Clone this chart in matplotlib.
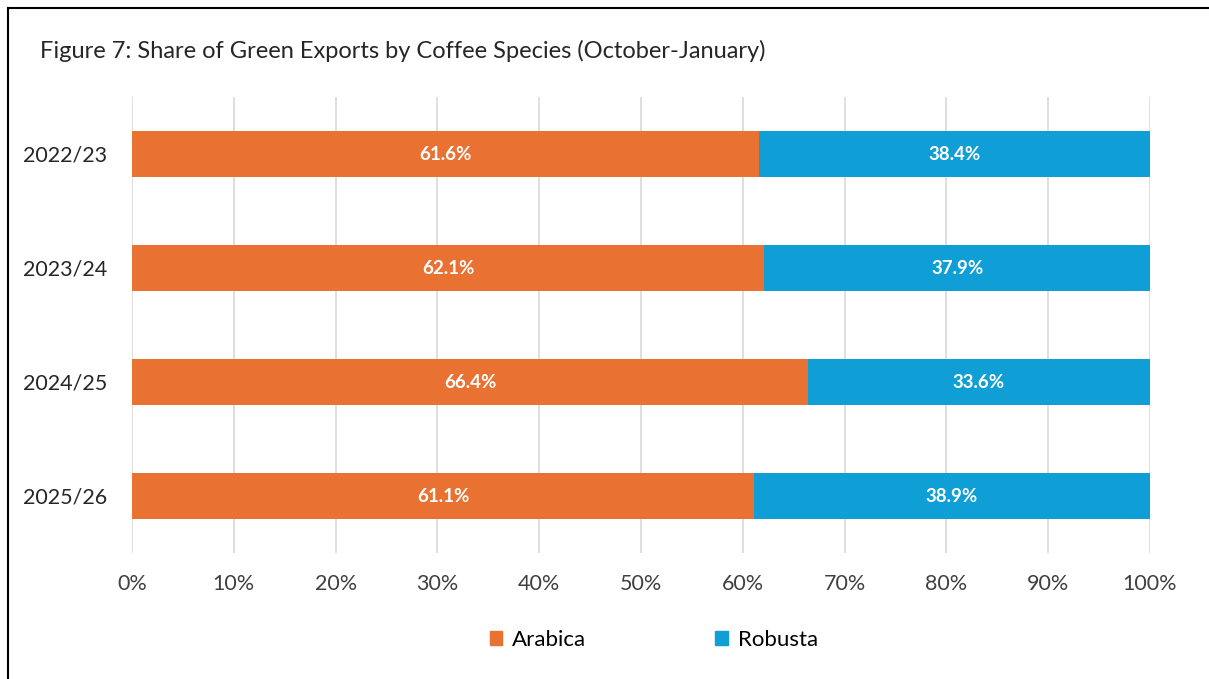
import matplotlib
matplotlib.use("Agg")
import matplotlib.pyplot as plt
from matplotlib.lines import Line2D

years = ["2022/23", "2023/24", "2024/25", "2025/26"]
arabica = [61.6, 62.1, 66.4, 61.1]
robusta = [38.4, 37.9, 33.6, 38.9]
xticks = [0, 10, 20, 30, 40, 50, 60, 70, 80, 90, 100]
xtick_labels = [f"{t}%" for t in xticks]

plt.rcParams['font.family'] = ['Lato', 'DejaVu Sans']
W, H = 1209, 679
fig = plt.figure(figsize=(W/100, H/100), dpi=100)
fig.patch.set_facecolor('white')
ax = fig.add_axes([132/W, 1-553/H, (1150-132)/W, (553-97)/H])

orange = '#E97132'
blue = '#0F9ED5'
ypos = list(range(len(years)))
b1 = ax.barh(ypos, arabica, height=0.41, color=orange, label='Arabica', zorder=3)
b2 = ax.barh(ypos, robusta, left=arabica, height=0.41, color=blue, label='Robusta', zorder=3)
for bars, vals in ((b1, arabica), (b2, robusta)):
    ax.bar_label(bars, labels=[f"{v:.1f}%" for v in vals], label_type='center',
                 color='white', fontsize=13.5, fontweight='bold')

ax.set_xlim(0, 100)
ax.set_ylim(3.5, -0.5)
ax.set_yticks(ypos)
ax.set_yticklabels(years, fontsize=15.5, color='#262626')
ax.set_xticks(xticks)
ax.set_xticklabels(xtick_labels, fontsize=15.5, color='#404040')
ax.tick_params(axis='both', length=0)
ax.tick_params(axis='x', pad=15)
ax.tick_params(axis='y', pad=18)
ax.grid(axis='x', color='#D9D9D9', linewidth=1.2, zorder=0)
for s in ax.spines.values():
    s.set_visible(False)

fig.text(40/W, 1-51/H, "Figure 7: Share of Green Exports by Coffee Species (October-January)",
         fontsize=17, color='#262626', va='center', ha='left')

handles = [plt.Rectangle((0, 0), 1, 1, color=orange), plt.Rectangle((0, 0), 1, 1, color=blue)]
fig.legend(handles, ['Arabica', 'Robusta'], loc='center', bbox_to_anchor=(654/W, 1-640/H),
           ncol=2, frameon=False, fontsize=16, handlelength=0.55, handleheight=0.55,
           columnspacing=5.8, handletextpad=0.45)

fig.add_artist(Line2D([7.5/W, 7.5/W], [0, 1-8/H], color='black', linewidth=1.5))
fig.add_artist(Line2D([7.5/W, 1], [1-8/H, 1-8/H], color='black', linewidth=1.5))

fig.savefig("out.png", dpi=100, facecolor='white')
